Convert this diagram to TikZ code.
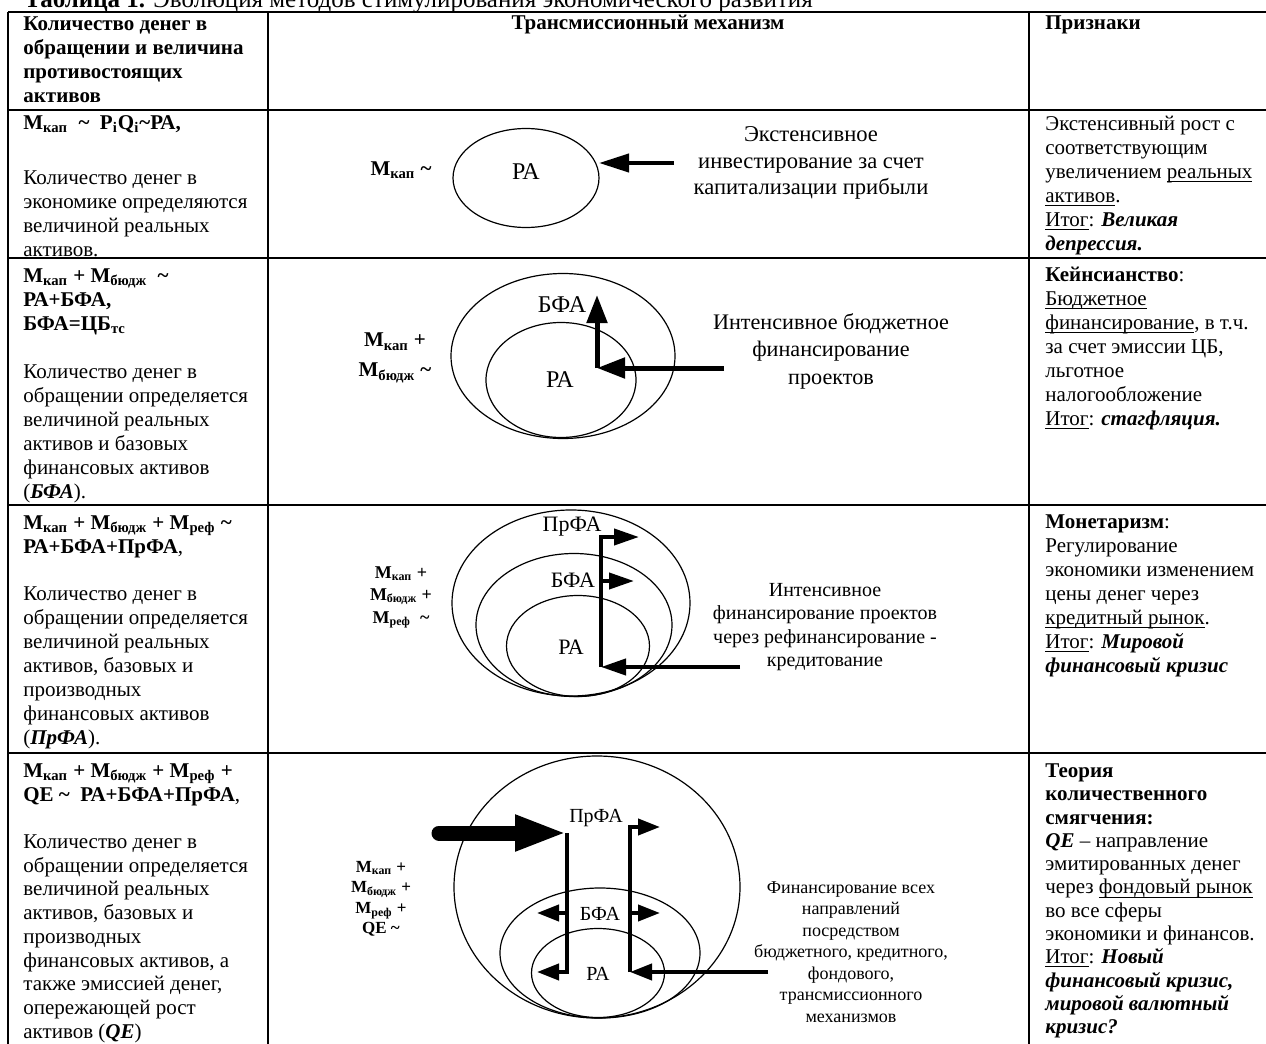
\documentclass[tikz,border=0pt]{standalone}
\usepackage{fontspec}
\setmainfont{Liberation Serif}
\usetikzlibrary{shapes.geometric, arrows.meta}
\newcommand\myul[1]{\setbox0\hbox{#1}\rlap{\rule[-1.8pt]{\wd0}{0.5pt}}#1}
\newcommand\tld{\textasciitilde}
\newcommand\sst{\rule{0pt}{9pt}}
\begin{document}
\begin{tikzpicture}[x=0.5pt, y=-0.5pt,
  grid/.style={line width=1.2pt},
  cell/.style={anchor=north west, inner sep=0pt, align=left, font=\fontsize{10.5}{12}\selectfont},
  cellb/.style={cell, font=\fontsize{10.5}{12}\selectfont\bfseries},
  ell/.style={draw, ellipse, inner sep=0pt, line width=0.6pt},
  lab12/.style={inner sep=0pt, font=\fontsize{12}{14}\selectfont},
  lab11/.style={inner sep=0pt, font=\fontsize{11}{13}\selectfont},
  lab10/.style={inner sep=0pt, font=\fontsize{10}{12}\selectfont},
  mA/.style={inner sep=0pt, align=center, font=\fontsize{10.5}{15}\selectfont\bfseries},
  mB/.style={inner sep=0pt, align=center, font=\fontsize{9}{11.25}\selectfont\bfseries},
  mC/.style={inner sep=0pt, align=center, font=\fontsize{8.5}{10.25}\selectfont\bfseries},
  txtA/.style={inner sep=0pt, align=center, font=\fontsize{11.3}{13.25}\selectfont},
  txtB/.style={inner sep=0pt, align=center, font=\fontsize{11.1}{13.75}\selectfont},
  txtC/.style={inner sep=0pt, align=center, font=\fontsize{10}{11.75}\selectfont},
  txtD/.style={inner sep=0pt, align=center, font=\fontsize{9}{10.75}\selectfont},
  arrA/.style={line width=2pt, -{Triangle[length=15pt, width=9pt]}},
  arrB/.style={line width=2.5pt, -{Triangle[length=14pt, width=10pt]}},
  arrC/.style={line width=2pt, -{Triangle[length=12.5pt, width=8pt]}},
  arrD/.style={line width=2pt, -{Triangle[length=11pt, width=8pt]}},
  bigarr/.style={line width=7.5pt, line cap=round, -{Triangle[length=26pt, width=16.5pt]}}
]
\useasboundingbox (0,0) rectangle (1266,1044);

% title
\node[anchor=base west, inner sep=0pt, font=\fontsize{12.5}{14}\selectfont] (title) at (24,8)
  {\textbf{Таблица 1.} Эволюция методов стимулирования экономического развития};

% grid
\draw[grid] (8,12) -- (1266,12);
\draw[grid] (8,110) -- (1266,110);
\draw[grid] (8,258) -- (1266,258);
\draw[grid] (8,505) -- (1266,505);
\draw[grid] (8,753) -- (1266,753);
\draw[grid] (8,12) -- (8,1044);
\draw[grid] (268,12) -- (268,1044);
\draw[grid] (1029,12) -- (1029,1044);

% header
\node[cellb] (h1) at (23,12) {\sst Количество денег в\\обращении и величина\\противостоящих\\активов};
\node[anchor=base, inner sep=0pt, font=\fontsize{10.5}{12}\selectfont\bfseries] (h2) at (648,30) {Трансмиссионный механизм};
\node[anchor=base west, inner sep=0pt, font=\fontsize{10.5}{12}\selectfont\bfseries] (h3) at (1045,30) {Признаки};

% column 1
\node[anchor=base west, inner sep=0pt, font=\fontsize{10.5}{12}\selectfont\bfseries] (f1) at (23,129)
  {M\textsubscript{кап}\ \ \tld\ \ P\textsubscript{i}Q\textsubscript{i}\tld РА,};
\node[cell] (b1) at (23,166) {\sst Количество денег в\\экономике определяются\\величиной реальных\\активов.};

\node[cellb] (f2) at (23,264) {\sst M\textsubscript{кап} + M\textsubscript{бюдж}\ \ \tld\\РА+БФА,\\БФА=ЦБ\textsubscript{тс}};
\node[cell] (b2) at (23,360) {\sst Количество денег в\\обращении определяется\\величиной реальных\\активов и базовых\\финансовых активов\\(\textbf{\textit{БФА}}).};

\node[cellb] (f3) at (23,511) {\sst M\textsubscript{кап} + M\textsubscript{бюдж} + M\textsubscript{реф} \tld\\РА+БФА+ПрФА\textmd{,}};
\node[cell] (b3) at (23,582) {\sst Количество денег в\\обращении определяется\\величиной реальных\\активов, базовых и\\производных\\финансовых активов\\(\textbf{\textit{ПрФА}}).};

\node[cellb] (f4) at (23,759) {\sst M\textsubscript{кап} + M\textsubscript{бюдж} + M\textsubscript{реф} +\\QE \tld\ \ РА+БФА+ПрФА\textmd{,}};
\node[cell, font=\fontsize{10.5}{11.875}\selectfont] (b4) at (23,830) {\sst Количество денег в\\обращении определяется\\величиной реальных\\активов, базовых и\\производных\\финансовых активов, а\\также эмиссией денег,\\опережающей рост\\активов (\textbf{\textit{QE}})};

% column 3
\node[cell] (p1) at (1045,112) {\sst Экстенсивный рост с\\соответствующим\\увеличением \myul{реальных}\\\myul{активов}.\\\myul{Итог}: \textbf{\textit{Великая}}\\\textbf{\textit{депрессия.}}};
\node[cell] (p2) at (1045,263) {\sst \textbf{Кейнсианство}:\\\myul{Бюджетное}\\\myul{финансирование}, в т.ч.\\за счет эмиссии ЦБ,\\льготное\\налогообложение\\\myul{Итог}: \textbf{\textit{стагфляция.}}};
\node[cell] (p3) at (1045,510) {\sst \textbf{Монетаризм}:\\Регулирование\\экономики изменением\\цены денег через\\\myul{кредитный рынок}.\\\myul{Итог}: \textbf{\textit{Мировой}}\\\textbf{\textit{финансовый кризис}}};
\node[cell, font=\fontsize{10.5}{11.65}\selectfont] (p4) at (1045,759) {\sst \textbf{Теория}\\\textbf{количественного}\\\textbf{смягчения:}\\\textbf{\textit{QE}} – направление\\эмитированных денег\\через \myul{фондовый рынок}\\во все сферы\\экономики и финансов.\\\myul{Итог}: \textbf{\textit{Новый}}\\\textbf{\textit{финансовый кризис,}}\\\textbf{\textit{мировой валютный}}\\\textbf{\textit{кризис?}}};

% ---------- row 1 diagram
\node[ell, minimum width=73pt, minimum height=49.5pt] (e1) at (526,178) {};
\node[lab12] (e1l) at (526,172) {РА};
\node[mA] (m1) at (401,170) {M\textsubscript{кап} \tld};
\coordinate (a1s) at (674,163);
\coordinate (a1t) at (599,163);
\draw[arrA] (a1s) -- (a1t);
\node[txtA] (t1) at (811,163) {Экстенсивное\\инвестирование за счет\\капитализации прибыли};

% ---------- row 2 diagram
\node[mA] (m2) at (395,358) {M\textsubscript{кап} +\\M\textsubscript{бюдж} \tld};
\node[ell, minimum width=112pt, minimum height=82.5pt] (e2o) at (563,356) {};
\node[ell, minimum width=75pt, minimum height=57.5pt] (e2i) at (561,380) {};
\node[lab12] (e2ol) at (562,305) {БФА};
\node[lab12] (e2il) at (560,380) {РА};
\coordinate (c2) at (597,368);
\coordinate (c2u) at (597,295);
\coordinate (a2s) at (724,368);
\draw[arrB] (a2s) -- (c2);
\draw[arrB] (c2) -- (c2u);
\node[txtB] (t2) at (831,351) {Интенсивное бюджетное\\финансирование\\проектов};

% ---------- row 3 diagram
\node[mB] (m3) at (401,597) {M\textsubscript{кап} +\\M\textsubscript{бюдж} +\\M\textsubscript{реф}\ \ \tld};
\node[ell, minimum width=119pt, minimum height=93pt] (e3o) at (571,603) {};
\node[ell, minimum width=98pt, minimum height=71.5pt] (e3m) at (574,625) {};
\node[ell, minimum width=71.5pt, minimum height=50.5pt] (e3i) at (578,646) {};
\node[lab11] (e3ol) at (572,527) {ПрФА};
\node[lab11] (e3ml) at (573,580) {БФА};
\node[lab11] (e3il) at (571,647) {РА};
\coordinate (v3t) at (601,537);
\coordinate (v3m) at (601,581);
\coordinate (v3b) at (601,667);
\coordinate (r3a) at (639,537);
\coordinate (r3b) at (634,581);
\coordinate (a3s) at (740,667);
\draw[arrC] (v3b) -- (v3t) -- (r3a);
\draw[arrC] (v3m) -- (r3b);
\draw[arrC] (a3s) -- (v3b);
\node[txtC] (t3) at (825,627) {Интенсивное\\финансирование проектов\\через рефинансирование -\\кредитование};

% ---------- row 4 diagram
\node[mC] (m4) at (381,899) {M\textsubscript{кап} +\\M\textsubscript{бюдж} +\\M\textsubscript{реф} +\\QE \tld};
\node[ell, minimum width=143pt, minimum height=131pt] (e4o) at (597,887) {};
\node[ell, minimum width=100pt, minimum height=65pt] (e4m) at (600,953) {};
\node[ell, minimum width=66.5pt, minimum height=44.5pt] (e4i) at (598,973) {};
\node[lab10] (e4ol) at (596,818) {ПрФА};
\node[lab10] (e4ml) at (600,914) {БФА};
\node[lab10] (e4il) at (598,974) {РА};
\coordinate (bs) at (439,833);
\coordinate (l4t) at (567,833);
\coordinate (l4m) at (567,913);
\coordinate (l4b) at (567,972);
\coordinate (l4ma) at (537,913);
\coordinate (l4ba) at (537,972);
\coordinate (r4t) at (630,827);
\coordinate (r4m) at (630,913);
\coordinate (r4b) at (630,972);
\coordinate (r4ta) at (660,827);
\coordinate (r4ma) at (660,913);
\coordinate (a4s) at (768,972);
\draw[bigarr] (bs) -- (l4t);
\draw[arrD] (l4t) -- (l4b) -- (l4ba);
\draw[arrD] (l4m) -- (l4ma);
\draw[arrD] (r4b) -- (r4t) -- (r4ta);
\draw[arrD] (r4m) -- (r4ma);
\draw[arrD] (a4s) -- (r4b);
\node[txtD] (t4) at (851,952) {Финансирование всех\\направлений\\посредством\\бюджетного, кредитного,\\фондового,\\трансмиссионного\\механизмов};
\end{tikzpicture}
\end{document}
